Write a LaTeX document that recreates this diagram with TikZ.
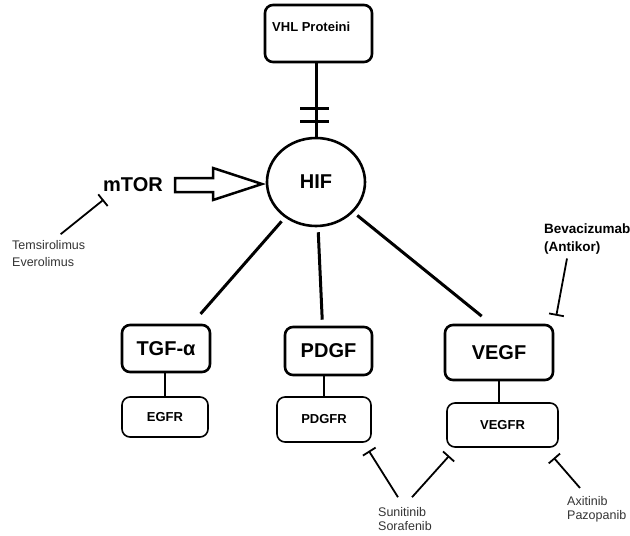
\documentclass[tikz,border=0pt]{standalone}
\usepackage{fontspec}
\setmainfont{Liberation Sans}
\usetikzlibrary{arrows.meta,shapes.geometric,calc}

\begin{document}
\begin{tikzpicture}[x=1pt,y=-1pt,
  bigbox/.style={draw,rounded corners=8pt,line width=2.6pt,inner sep=0pt},
  smallbox/.style={draw,rounded corners=8pt,line width=1.6pt,inner sep=0pt},
  biglabel/.style={font=\fontsize{20}{24}\selectfont\bfseries},
  smalllabel/.style={font=\fontsize{13}{16}\selectfont\bfseries},
  druglabel/.style={align=left,inner sep=0pt,text=black!80},
  link/.style={line width=3pt},
  inhibit/.style={line width=1.8pt,-{Bar[width=15pt,line width=1.8pt]}}]
\useasboundingbox (0,0) rectangle (630,536);

\node[bigbox,minimum width=107pt,minimum height=57pt] (vhl) at (318.5,33.5) {};
\node[smalllabel,anchor=west,inner sep=0pt] (vhltext) at (272,27) {VHL Proteini};
\node[draw,ellipse,line width=2.6pt,minimum width=98pt,minimum height=88pt,biglabel] (hif) at (316,182) {HIF};
\node[biglabel] (mtor) at (133,185) {mTOR};

\node[bigbox,minimum width=88pt,minimum height=47pt,biglabel] (tgf) at (166,348.5) {TGF-α};
\node[bigbox,minimum width=87pt,minimum height=48pt,biglabel] (pdgf) at (328.5,351) {PDGF};
\node[bigbox,minimum width=108pt,minimum height=55pt,biglabel] (vegf) at (499,352.5) {VEGF};

\node[smallbox,minimum width=86pt,minimum height=40pt,smalllabel] (egfr) at (165,417) {EGFR};
\node[smallbox,minimum width=94pt,minimum height=45pt,smalllabel] (pdgfr) at (324,419.5) {PDGFR};
\node[smallbox,minimum width=111pt,minimum height=44pt,smalllabel] (vegfr) at (502.5,425) {VEGFR};

\node[druglabel,font=\fontsize{12.5}{17}\selectfont,anchor=west] (tems) at (12,253.5) {Temsirolimus\\Everolimus};
\node[druglabel,font=\fontsize{13.5}{18}\selectfont\bfseries,text=black,anchor=west] (beva) at (544,239) {Bevacizumab\\(Antikor)};
\node[druglabel,font=\fontsize{12.5}{14}\selectfont,anchor=west] (suni) at (378,519) {Sunitinib\\Sorafenib};
\node[druglabel,font=\fontsize{12.5}{14}\selectfont,anchor=west] (axit) at (567,509) {Axitinib\\Pazopanib};

\draw[link] (hif.north |- vhl.south) -- (hif.north);
\draw[link] (300,108) -- (329,108);
\draw[link] (300,121) -- (329,121);

\draw[line width=2.5pt,line join=miter] (175,178) -- (213,178) -- (213,168) -- (262,184) -- (213,200) -- (213,192) -- (175,192) -- cycle;

\draw[link,shorten <=5pt,shorten >=13pt] (hif) -- ($(tgf.north)+(26,0)$);
\draw[link,shorten <=5pt,shorten >=6pt] (hif) -- ($(pdgf.north)+(-6,0)$);
\draw[link,shorten <=5pt,shorten >=12pt] (hif) -- ($(vegf.north)+(-8,0)$);

\draw[line width=1.6pt] (egfr.north) -- (egfr.north |- tgf.south);
\draw[line width=1.6pt] (pdgfr.north) -- (pdgfr.north |- pdgf.south);
\draw[line width=1.6pt] (vegf.south) -- (vegf.south |- vegfr.north);

\draw[inhibit] ($(tems.north)+(12,-6)$) -- ($(mtor.south west)+(4,4)$);
\draw[inhibit] ($(beva.south west)+(23,4)$) -- ($(vegf.north east)+(2,-8)$);
\draw[inhibit] ($(suni.north west)+(20,-10)$) -- ($(pdgfr.south east)+(-3,8)$);
\draw[inhibit] ($(suni.north west)+(34,-10)$) -- ($(vegfr.south west)+(3,8)$);
\draw[inhibit] ($(axit.north west)+(13,-8)$) -- ($(vegfr.south east)+(-5,10)$);
\end{tikzpicture}
\end{document}
